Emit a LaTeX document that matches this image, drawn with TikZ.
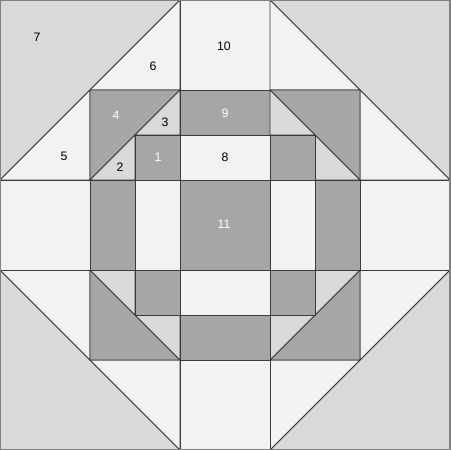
\documentclass[tikz,border=0pt]{standalone}
\usepackage{fontspec}
\setmainfont{Liberation Sans}
\usepackage{tikz}
\usetikzlibrary{positioning}

\definecolor{pale}{HTML}{F2F2F2}
\definecolor{mid}{HTML}{D9D9D9}
\definecolor{deep}{HTML}{A6A6A6}
\definecolor{seam}{HTML}{3A3A3A}

\tikzset{
  palepatch/.style={fill=pale, draw=seam, line width=0.5pt, line join=round},
  midpatch/.style={fill=mid, draw=seam, line width=0.5pt, line join=round},
  deeppatch/.style={fill=deep, draw=seam, line width=0.5pt, line join=round},
  num/.style={inner sep=0pt, font=\fontsize{7}{8}\selectfont, text=black},
  numw/.style={num, text=white}
}

\begin{document}
\begin{tikzpicture}[x=0.02cm, y=-0.02cm]
\useasboundingbox (0,0) rectangle (450,450);
% one quarter, turned four times round the middle
\foreach \a in {0,90,180,270}{
  \begin{scope}[rotate around={\a:(225,225)}]
  \path[midpatch] (0,0) -- (180,0) -- (0,180) -- cycle;
  \path[palepatch] (90,90) -- (180,0) -- (180,90) -- cycle;
  \path[palepatch] (0,180) -- (90,90) -- (90,180) -- cycle;
  \path[deeppatch] (90,90) -- (180,90) -- (90,180) -- cycle;
  \path[midpatch] (135,135) -- (180,90) -- (180,135) -- cycle;
  \path[midpatch] (90,180) -- (135,135) -- (135,180) -- cycle;
  \path[deeppatch] (135,135) rectangle (180,180);
  \path[palepatch] (180,0) rectangle (270,90);
  \path[deeppatch] (180,90) rectangle (270,135);
  \path[palepatch] (180,135) rectangle (270,180);
  \end{scope}
}
\path[deeppatch] (180,180) rectangle (270,270);
\draw[gray, line width=0.6pt] (0,0) rectangle (450,450);

% piece numbers
\node[numw] (p1) at (158,157) {1};
\node[num] (p2) at (120,167) {2};
\node[num] (p3) at (165,122) {3};
\node[numw] (p4) at (116,115) {4};
\node[num] (p5) at (64,156) {5};
\node[num] (p6) at (153,66) {6};
\node[num] (p7) at (37,37) {7};
\node[num] (p8) at (225,157) {8};
\node[numw] (p9) at (225,113) {9};
\node[num] (p10) at (224,46) {10};
\node[numw] (p11) at (224,224) {11};
\end{tikzpicture}
\end{document}
